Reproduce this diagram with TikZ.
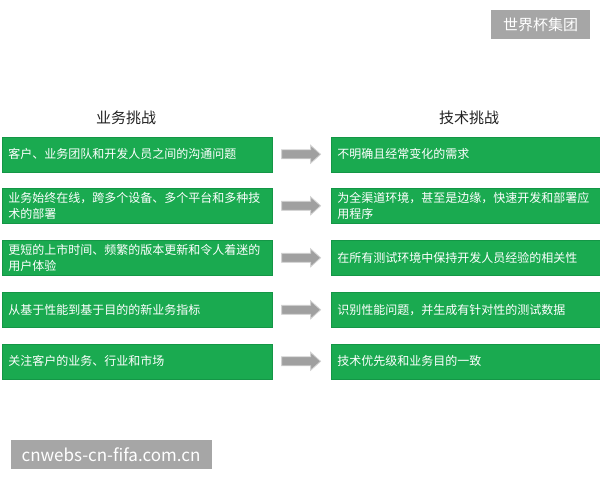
\documentclass[tikz,border=0pt]{standalone}
\usepackage{fontspec}
\setmainfont{Noto Sans CJK SC}
\usetikzlibrary{calc}
\definecolor{boxgreen}{RGB}{26,170,80}
\definecolor{boxedge}{RGB}{20,150,70}
\definecolor{labelgray}{RGB}{166,166,166}
\definecolor{arrowgray}{RGB}{160,160,160}
\definecolor{arrowedge}{RGB}{210,210,210}
\definecolor{headtext}{RGB}{34,34,34}
\begin{document}
\begin{tikzpicture}[x=1pt,y=-1pt,
  challenge/.style={fill=boxgreen, draw=boxedge, line width=0.6pt, anchor=north west,
    minimum height=35pt, inner xsep=6.5pt, inner ysep=0pt, align=left, text=white,
    font=\fontsize{12}{16}\selectfont},
  leftbox/.style={challenge, text width=257pt},
  rightbox/.style={challenge, text width=256pt},
  head/.style={font=\fontsize{15}{18}\selectfont, text=headtext, inner sep=0pt},
  flow/.style={fill=arrowgray, draw=arrowedge, line width=0.8pt, line join=miter},
  tag/.style={fill=labelgray, text=white, inner sep=0pt}
]
\useasboundingbox (0,0) rectangle (600,480);
\fill[white] (0,0) rectangle (600,480);

\node[tag, minimum width=99pt, minimum height=29pt, font=\fontsize{15}{18}\selectfont] (T1) at (540.5,24.5) {世界杯集团};

\node[head] (H1) at (126,117.5) {业务挑战};
\node[head] (H2) at (469,117.5) {技术挑战};

\node[leftbox] (L1) at (1.5,136.5) {客户、业务团队和开发人员之间的沟通问题};
\node[leftbox] (L2) at (1.5,188) {业务始终在线，跨多个设备、多个平台和多种技\\术的部署};
\node[leftbox] (L3) at (1.5,240) {更短的上市时间、频繁的版本更新和令人着迷的\\用户体验};
\node[leftbox] (L4) at (1.5,292) {从基于性能到基于目的的新业务指标};
\node[leftbox] (L5) at (1.5,343.5) {关注客户的业务、行业和市场};

\node[rightbox] (R1) at (330.5,136.5) {不明确且经常变化的需求};
\node[rightbox] (R2) at (330.5,188) {为全渠道环境，甚至是边缘，快速开发和部署应\\用程序};
\node[rightbox] (R3) at (330.5,240) {在所有测试环境中保持开发人员经验的相关性};
\node[rightbox] (R4) at (330.5,292) {识别性能问题，并生成有针对性的测试数据};
\node[rightbox] (R5) at (330.5,343.5) {技术优先级和业务目的一致};

\foreach \i in {1,...,5} {
  \draw[flow] ($(L\i.east)+(9.5,-4.5)$) -- ++(29,0) -- ++(0,-4.5) -- ++(10,9)
    -- ++(-10,9) -- ++(0,-4.5) -- ++(-29,0) -- cycle;
}

\node[tag, minimum width=201pt, minimum height=29pt, font=\fontsize{17}{19}\selectfont] (T2) at (111,454.5) {cnwebs-cn-fifa.com.cn};
\end{tikzpicture}
\end{document}
